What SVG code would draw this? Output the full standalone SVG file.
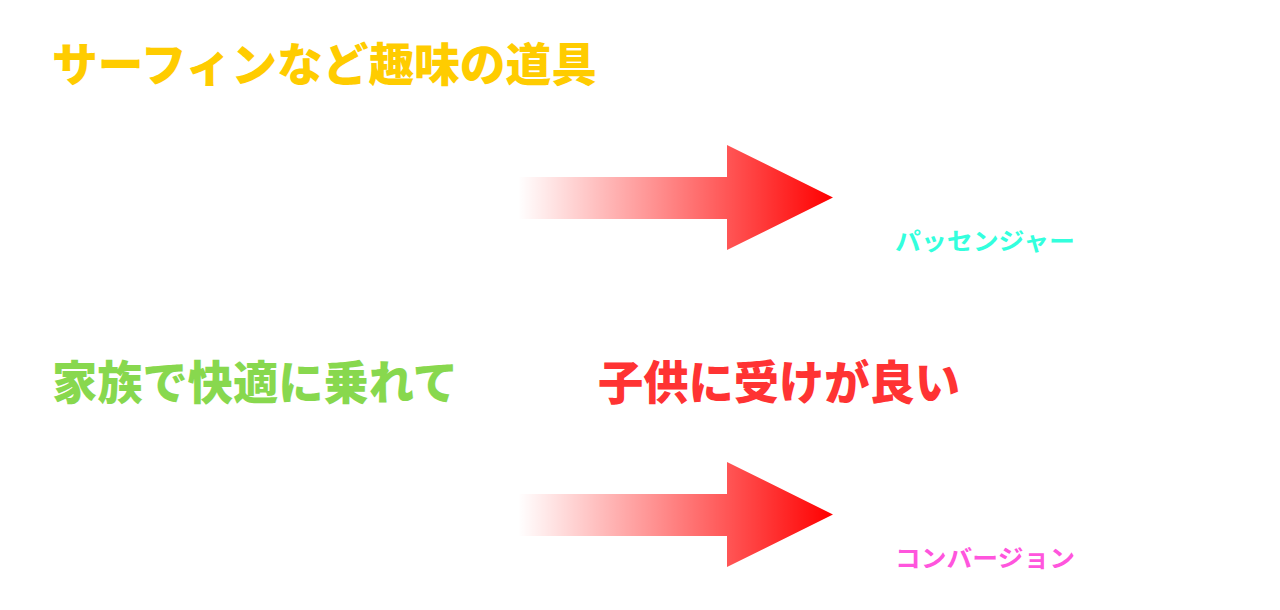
<svg xmlns="http://www.w3.org/2000/svg" width="1280" height="610" viewBox="0 0 1280 610">
<defs>
<linearGradient id="g" gradientUnits="objectBoundingBox" x1="0" y1="0" x2="1" y2="0">
<stop offset="0" stop-color="#ff0000" stop-opacity="0"/>
<stop offset="1" stop-color="#ff0000" stop-opacity="1"/>
</linearGradient>
<style>
.big{font-family:"Noto Sans CJK JP",sans-serif;font-weight:900;font-size:46px}
.sm{font-family:"Noto Sans CJK JP",sans-serif;font-weight:700;font-size:24px}
.arrow{fill:url(#g)}
</style>
</defs>
<rect width="1280" height="610" fill="#ffffff"/>
<g id="title1"><text class="big" x="52" y="81" fill="#ffcc00" textLength="545" lengthAdjust="spacingAndGlyphs">サーフィンなど趣味の道具</text></g>
<g id="title2"><text class="big" x="52" y="399" fill="#88d84e" textLength="406" lengthAdjust="spacingAndGlyphs">家族で快適に乗れて</text></g>
<g id="title3"><text class="big" x="598" y="399" fill="#ff3333" textLength="362" lengthAdjust="spacingAndGlyphs">子供に受けが良い</text></g>
<g id="label1"><text class="sm" x="895" y="250" fill="#33ffdd" textLength="180" lengthAdjust="spacingAndGlyphs">パッセンジャー</text></g>
<g id="label2"><text class="sm" x="895" y="567" fill="#ff55dd" textLength="180" lengthAdjust="spacingAndGlyphs">コンバージョン</text></g>
<g id="connectors">
<polygon class="arrow" points="518,177 727,177 727,145 833,197.5 727,250 727,219 518,219"/>
<polygon class="arrow" points="518,494 727,494 727,462 833,514.5 727,567 727,536 518,536"/>
</g>
</svg>
